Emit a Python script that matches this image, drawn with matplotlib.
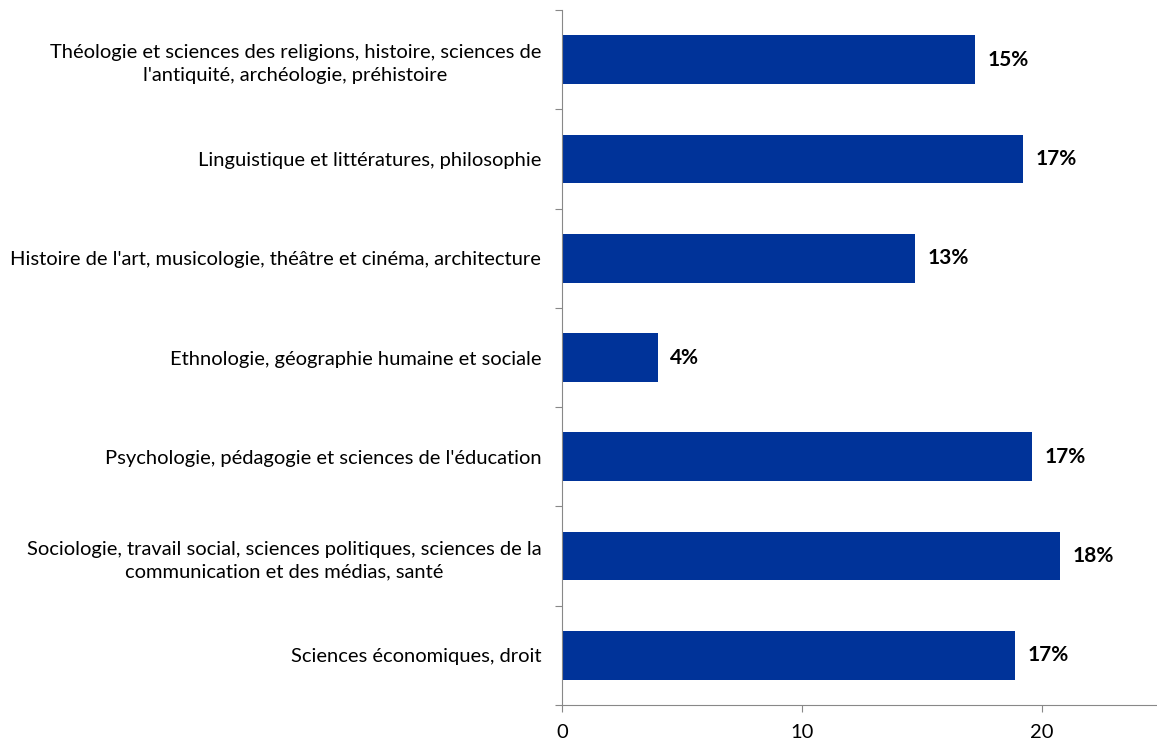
import numpy as np
import matplotlib.pyplot as plt

categories = [
    "Théologie et sciences des religions, histoire, sciences de\nl'antiquité, archéologie, préhistoire",
    "Linguistique et littératures, philosophie",
    "Histoire de l'art, musicologie, théâtre et cinéma, architecture",
    "Ethnologie, géographie humaine et sociale",
    "Psychologie, pédagogie et sciences de l'éducation",
    "Sociologie, travail social, sciences politiques, sciences de la\ncommunication et des médias, santé",
    "Sciences économiques, droit",
]
values = [17.2, 19.2, 14.7, 4.0, 19.6, 20.75, 18.9]
labels = ["15%", "17%", "13%", "4%", "17%", "18%", "17%"]

plt.rcParams['font.family'] = ['Lato', 'DejaVu Sans']

fig = plt.figure(figsize=(11.57, 7.43), dpi=100)
ax = fig.add_axes([562 / 1157, 1 - 705 / 743, 595 / 1157, 695 / 743])

n = len(categories)
y = np.arange(n)[::-1]
ax.barh(y, values, height=0.49, color='#003399')

for yi, v, lab in zip(y, values, labels):
    ax.annotate(lab, (v, yi), xytext=(9, 0), textcoords='offset points',
                va='center', ha='left', fontsize=15, fontweight='bold')

ax.set_ylim(-0.5, n - 0.5)
ax.set_xlim(0, 24.8)
ax.set_xticks([0, 10, 20])
ax.tick_params(axis='x', labelsize=14.5, length=5, color='#888888', pad=9)

ax.set_yticks(np.arange(n + 1) - 0.5)
ax.set_yticklabels([])
ax.set_yticks(y, minor=True)
ax.set_yticklabels(categories, minor=True, fontsize=14.5, multialignment='center',
                   linespacing=1.45)
ax.tick_params(axis='y', which='major', length=5, color='#888888')
ax.tick_params(axis='y', which='minor', length=0, pad=15)

for side in ['top', 'right']:
    ax.spines[side].set_visible(False)
for side in ['left', 'bottom']:
    ax.spines[side].set_color('#888888')

fig.savefig('out.png', dpi=100)
